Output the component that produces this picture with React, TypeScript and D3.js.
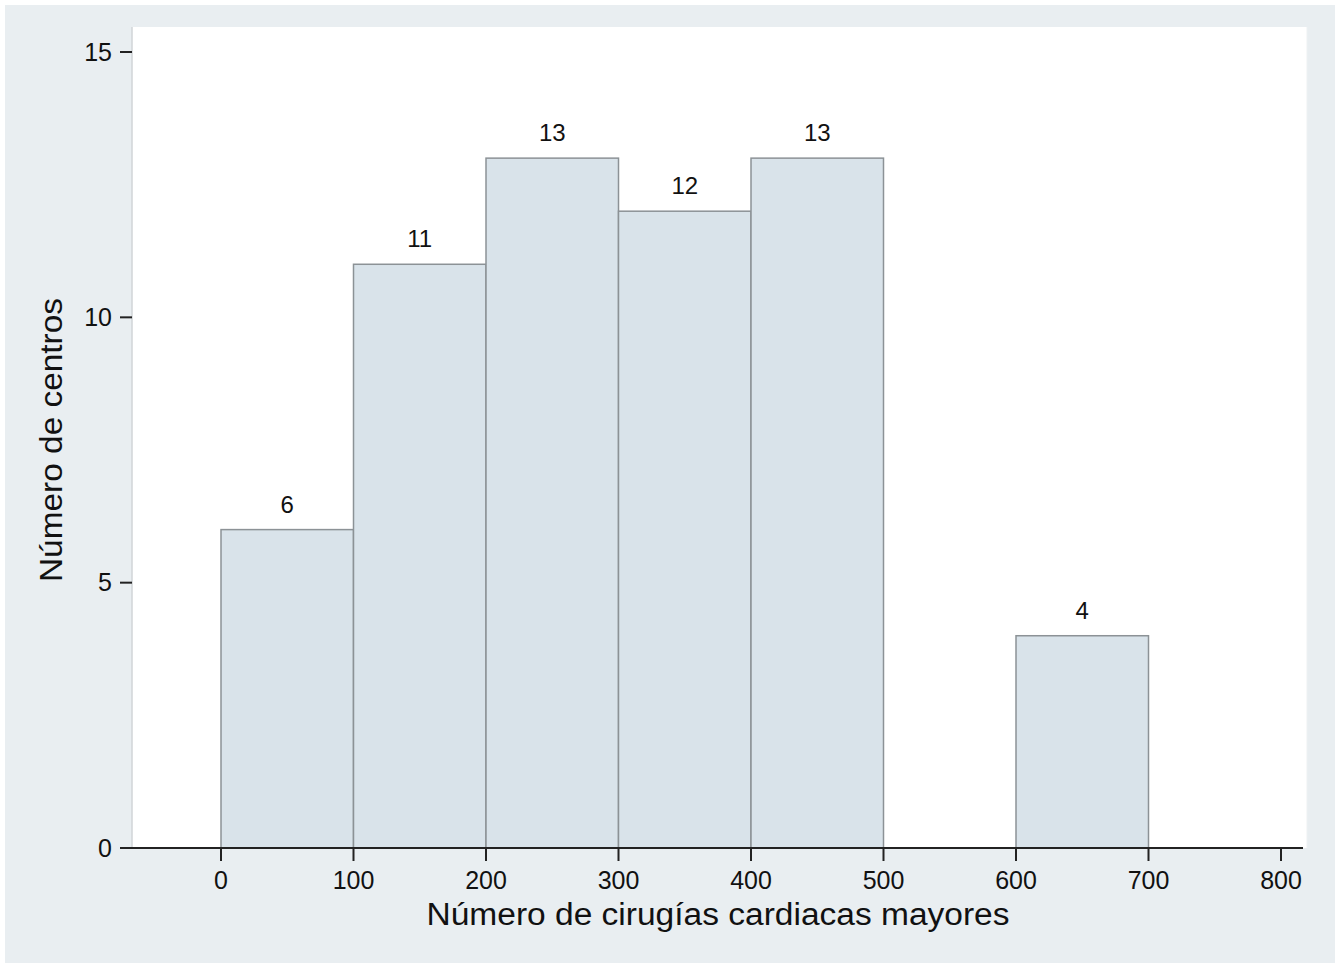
import React from "react";
import * as d3 from "d3";

const binStarts = [0, 100, 200, 300, 400, 600];
const binWidth = 100;
const counts = [6, 11, 13, 12, 13, 4];
const xTicks = [0, 100, 200, 300, 400, 500, 600, 700, 800];
const yTicks = [0, 5, 10, 15];
const xTitle = "Número de cirugías cardiacas mayores";
const yTitle = "Número de centros";

export default function App() {
  const W = 1341, H = 970;
  const x = d3.scaleLinear().domain([0, 800]).range([221, 1281]);
  const y = d3.scaleLinear().domain([0, 15]).range([848, 52]);
  const font = "Liberation Sans, Arial, Helvetica, sans-serif";
  const plotL = 132, plotR = 1307, plotT = 27, plotB = y(0);
  return (
    <svg width={W} height={H} style={{ position: "absolute", left: 0, top: 0, background: "#fff" }} fontFamily={font}>
      <rect x={5} y={5} width={1330} height={958} fill="#e9eef1" />
      <rect x={plotL} y={plotT} width={plotR - plotL} height={plotB - plotT} fill="#ffffff" />
      <line x1={plotL} x2={plotL} y1={plotT} y2={plotB} stroke="#d0d4d7" strokeWidth={1.5} />
      <line x1={plotR} x2={plotR} y1={plotT} y2={plotB} stroke="#eef1f3" strokeWidth={1} />
      {binStarts.map((s, i) => (
        <g key={i}>
          <rect
            x={x(s)}
            y={y(counts[i])}
            width={x(s + binWidth) - x(s)}
            height={y(0) - y(counts[i])}
            fill="#d9e3ea"
            stroke="#8c9296"
            strokeWidth={1.5}
          />
          <text x={x(s + binWidth / 2)} y={y(counts[i]) - 17} textAnchor="middle" fontSize={24} fill="#111">
            {counts[i]}
          </text>
        </g>
      ))}
      <line x1={120} x2={1303} y1={plotB} y2={plotB} stroke="#222" strokeWidth={2} />
      {yTicks.map((t) => (
        <g key={t}>
          <line x1={120} x2={plotL} y1={y(t)} y2={y(t)} stroke="#222" strokeWidth={2} />
          <text x={112} y={y(t)} dy="0.35em" textAnchor="end" fontSize={25} fill="#111">
            {t}
          </text>
        </g>
      ))}
      {xTicks.map((t) => (
        <g key={t}>
          <line x1={x(t)} x2={x(t)} y1={plotB} y2={plotB + 13} stroke="#222" strokeWidth={2} />
          <text x={x(t)} y={889} textAnchor="middle" fontSize={25} fill="#111">
            {t}
          </text>
        </g>
      ))}
      <text x={718} y={925} textAnchor="middle" fontSize={31} fill="#111" textLength={583} lengthAdjust="spacingAndGlyphs">
        {xTitle}
      </text>
      <text transform={`translate(62,440) rotate(-90)`} textAnchor="middle" fontSize={31} fill="#111" textLength={284} lengthAdjust="spacingAndGlyphs">
        {yTitle}
      </text>
    </svg>
  );
}
